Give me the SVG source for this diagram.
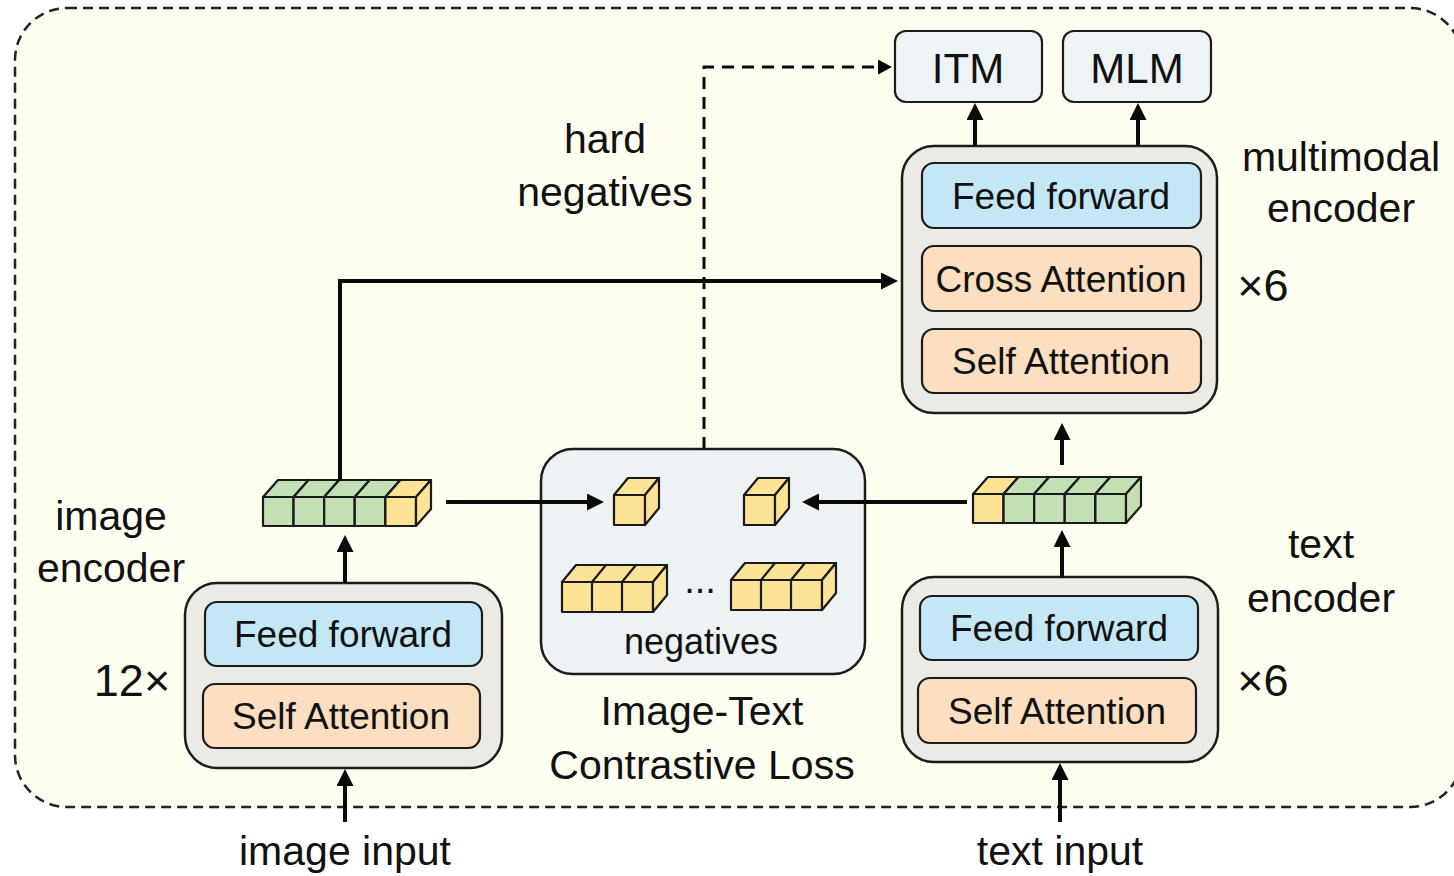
<svg xmlns="http://www.w3.org/2000/svg" width="1454" height="876" viewBox="0 0 1454 876">
  <defs>
    <style>
      .frame { fill: #FEFEF0; stroke: #222; stroke-width: 2.5; stroke-dasharray: 10 6; }
      .outer { fill: #EBEAE4; stroke: #1c1c1c; stroke-width: 2.5; }
      .ff { fill: #C4E7F6; stroke: #1c1c1c; stroke-width: 2.2; }
      .att { fill: #FBDFC0; stroke: #1c1c1c; stroke-width: 2.2; }
      .head { fill: #EEF3F5; stroke: #1c1c1c; stroke-width: 2.2; }
      .itc { fill: #EDF2F4; stroke: #1c1c1c; stroke-width: 2.5; }
      .t { font-family: "Liberation Sans", Arial, sans-serif; fill: #111; text-anchor: middle; }
      .box { font-size: 37px; }
      .lbl { font-size: 41px; }
      .big { font-size: 45px; }
      .conn { fill: none; stroke: #0a0a0a; stroke-width: 4; }
      .dash { fill: none; stroke: #0a0a0a; stroke-width: 3; stroke-dasharray: 12 8; }
      .cg { fill: #C3E0B5; }
      .cy { fill: #FDE396; }
      .cube { stroke: #1a1a1a; stroke-width: 2.2; stroke-linejoin: round; }
    </style>
    <marker id="ah" markerUnits="userSpaceOnUse" markerWidth="17" markerHeight="17" refX="7" refY="8.5" orient="auto">
      <path d="M0,0 L17,8.5 L0,17 z" fill="#0a0a0a"/>
    </marker>
    <marker id="ahs" markerUnits="userSpaceOnUse" markerWidth="14" markerHeight="15" refX="5" refY="7.5" orient="auto">
      <path d="M0,0 L14,7.5 L0,15 z" fill="#0a0a0a"/>
    </marker>
    <!-- one cube unit: front face, top face, right face -->
    <g id="cubeG" class="cube">
      <rect class="cg" x="0" y="0" width="30.6" height="29"/>
      <polygon class="cg" points="0,0 15,-17 45.6,-17 30.6,0"/>
      <polygon class="cg" points="30.6,0 45.6,-17 45.6,12 30.6,29"/>
    </g>
    <g id="cubeY" class="cube">
      <rect class="cy" x="0" y="0" width="30.6" height="29"/>
      <polygon class="cy" points="0,0 15,-17 45.6,-17 30.6,0"/>
      <polygon class="cy" points="30.6,0 45.6,-17 45.6,12 30.6,29"/>
    </g>
    <g id="cubeS" class="cube">
      <rect class="cy" x="0" y="0" width="31" height="30"/>
      <polygon class="cy" points="0,0 14,-17 45,-17 31,0"/>
      <polygon class="cy" points="31,0 45,-17 45,13 31,30"/>
    </g>
  </defs>

  <!-- dashed model frame -->
  <rect id="frame" class="frame" x="15" y="8" width="1447" height="799" rx="52" ry="52"/>

  <!-- output heads -->
  <g id="itm">
    <rect class="head" x="895" y="31" width="147" height="71" rx="11"/>
    <text class="t" x="968" y="83" font-size="42">ITM</text>
  </g>
  <g id="mlm">
    <rect class="head" x="1063" y="31" width="148" height="71" rx="11"/>
    <text class="t" x="1137" y="83" font-size="42">MLM</text>
  </g>

  <!-- multimodal encoder -->
  <g id="multimodal-encoder">
    <rect class="outer" x="902" y="146" width="315" height="267" rx="32"/>
    <rect class="ff" x="922" y="163" width="279" height="65" rx="12"/>
    <text class="t box" x="1061" y="209">Feed forward</text>
    <rect class="att" x="922" y="246" width="279" height="65" rx="12"/>
    <text class="t box" x="1061" y="292">Cross Attention</text>
    <rect class="att" x="922" y="329" width="279" height="64" rx="12"/>
    <text class="t box" x="1061" y="374">Self Attention</text>
    <text class="t lbl" x="1341" y="171">multimodal</text>
    <text class="t lbl" x="1341" y="222">encoder</text>
    <text class="t big" x="1263" y="301">×6</text>
  </g>

  <!-- image encoder -->
  <g id="image-encoder">
    <rect class="outer" x="185" y="583" width="317" height="185" rx="32"/>
    <rect class="ff" x="205" y="602" width="277" height="64" rx="12"/>
    <text class="t box" x="343" y="647">Feed forward</text>
    <rect class="att" x="203" y="684" width="277" height="64" rx="12"/>
    <text class="t box" x="341" y="729">Self Attention</text>
    <text class="t lbl" x="111" y="530">image</text>
    <text class="t lbl" x="111" y="582">encoder</text>
    <text class="t big" x="132" y="696">12×</text>
  </g>

  <!-- text encoder -->
  <g id="text-encoder">
    <rect class="outer" x="902" y="577" width="316" height="185" rx="32"/>
    <rect class="ff" x="920" y="596" width="278" height="64" rx="12"/>
    <text class="t box" x="1059" y="641">Feed forward</text>
    <rect class="att" x="918" y="678" width="278" height="65" rx="12"/>
    <text class="t box" x="1057" y="724">Self Attention</text>
    <text class="t lbl" x="1321" y="558">text</text>
    <text class="t lbl" x="1321" y="612">encoder</text>
    <text class="t big" x="1263" y="696">×6</text>
  </g>

  <!-- image embedding tokens -->
  <g id="image-tokens">
    <use href="#cubeG" x="263" y="497"/>
    <use href="#cubeG" x="293.6" y="497"/>
    <use href="#cubeG" x="324.2" y="497"/>
    <use href="#cubeG" x="354.8" y="497"/>
    <use href="#cubeY" x="385.4" y="497"/>
  </g>

  <!-- text embedding tokens -->
  <g id="text-tokens">
    <use href="#cubeY" x="973" y="494"/>
    <use href="#cubeG" x="1003.6" y="494"/>
    <use href="#cubeG" x="1034.2" y="494"/>
    <use href="#cubeG" x="1064.8" y="494"/>
    <use href="#cubeG" x="1095.4" y="494"/>
  </g>

  <!-- image-text contrastive loss -->
  <g id="itc">
    <rect class="itc" x="541" y="449" width="324" height="225" rx="32"/>
    <use href="#cubeS" x="614" y="495"/>
    <use href="#cubeS" x="744" y="495"/>
    <use href="#cubeS" x="562" y="582"/>
    <use href="#cubeS" x="592" y="582"/>
    <use href="#cubeS" x="622" y="582"/>
    <use href="#cubeS" x="731" y="580"/>
    <use href="#cubeS" x="761" y="580"/>
    <use href="#cubeS" x="791" y="580"/>
    <text class="t" x="700" y="593" font-size="38">...</text>
    <text class="t" x="701" y="654" font-size="36">negatives</text>
    <text class="t lbl" x="702" y="725">Image-Text</text>
    <text class="t lbl" x="702" y="779">Contrastive Loss</text>
  </g>

  <!-- free labels -->
  <g id="labels">
    <text class="t lbl" x="605" y="153">hard</text>
    <text class="t lbl" x="605" y="206">negatives</text>
    <text class="t lbl" x="345" y="865">image input</text>
    <text class="t lbl" x="1060" y="865">text input</text>
  </g>

  <!-- connectors -->
  <g id="connectors">
    <path class="dash" d="M704,449 V67 H883" marker-end="url(#ahs)"/>
    <path class="conn" d="M340,481 V281 H888" marker-end="url(#ah)"/>
    <line class="conn" x1="446" y1="502" x2="594" y2="502" marker-end="url(#ah)"/>
    <line class="conn" x1="967" y1="502" x2="812" y2="502" marker-end="url(#ah)"/>
    <line class="conn" x1="345" y1="583" x2="345" y2="545" marker-end="url(#ah)"/>
    <line class="conn" x1="1062" y1="577" x2="1062" y2="540" marker-end="url(#ah)"/>
    <line class="conn" x1="1062" y1="465" x2="1062" y2="433" marker-end="url(#ah)"/>
    <line class="conn" x1="345" y1="822" x2="345" y2="779" marker-end="url(#ah)"/>
    <line class="conn" x1="1060" y1="822" x2="1060" y2="773" marker-end="url(#ah)"/>
    <line class="conn" x1="975" y1="146" x2="975" y2="113" marker-end="url(#ah)"/>
    <line class="conn" x1="1138" y1="146" x2="1138" y2="113" marker-end="url(#ah)"/>
  </g>
</svg>
